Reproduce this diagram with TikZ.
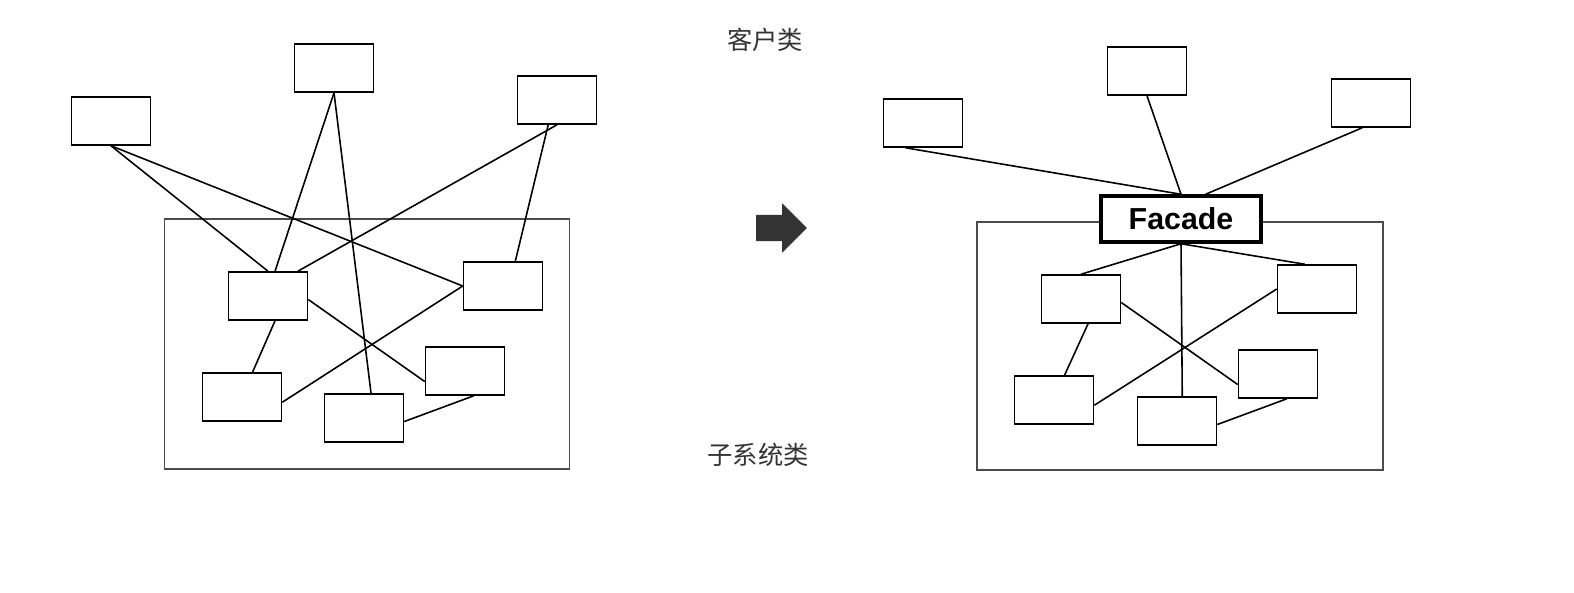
\documentclass[tikz,border=0pt]{standalone}
\usepackage{fontspec}
\setsansfont{Liberation Sans}
\newfontfamily\cjk{Noto Sans CJK SC}
\usetikzlibrary{shapes.arrows, positioning}

\begin{document}
\begin{tikzpicture}[
    x=0.02cm, y=-0.02cm,
    cls/.style={rectangle, draw=black, line width=0.9pt, fill=white, minimum width=1.58cm, minimum height=0.96cm, inner sep=0pt},
    facade/.style={rectangle, draw=black, line width=2pt, fill=white, minimum width=3.2cm, minimum height=0.92cm, font=\sffamily\bfseries\LARGE},
    subsys/.style={rectangle, draw=black!70, line width=0.9pt},
    link/.style={line width=0.9pt},
    label/.style={font=\cjk\Large, text=black!80}
]
\useasboundingbox (0,0) rectangle (1574,592);

% Left: clients talking to subsystem directly
\node[subsys, minimum width=8.1cm, minimum height=5cm] (lsub) at (367,344) {};
\node[cls] (l1) at (111,121) {};
\node[cls] (l2) at (334,68) {};
\node[cls] (l3) at (557,100) {};
\node[cls] (s1) at (268,296) {};
\node[cls] (s2) at (503,286) {};
\node[cls] (s3) at (465,371) {};
\node[cls] (s4) at (242,397) {};
\node[cls] (s5) at (364,418) {};

\draw[link] (l1.south) -- (s1.north);
\draw[link] (l1.south) -- (s2.west);
\draw[link] (l2.south) -- ([xshift=4]s1.north);
\draw[link] (l2.south) -- ([xshift=4]s5.north);
\draw[link] (l3.south) -- ([xshift=17]s1.north);
\draw[link] ([xshift=-5]l3.south) -- ([xshift=7]s2.north);
\draw[link] ([xshift=4]s1.south) -- ([xshift=6]s4.north);
\draw[link] ([yshift=-2]s1.east) -- ([yshift=-6]s3.west);
\draw[link] (s2.west) -- ([yshift=-3]s4.east);
\draw[link] ([xshift=5]s3.south) -- ([yshift=-2]s5.east);

% Middle
\node[single arrow, fill=black!80, draw=black!80, minimum height=1cm, inner sep=0.25cm, single arrow head extend=0.22cm] (go) at (775,228) {};
\node[label] (clients) at (765,40) {客户类};
\node[label] (subsystems) at (758,455) {子系统类};

% Right: clients go through the facade
\node[subsys, minimum width=8.12cm, minimum height=4.96cm] (rsub) at (1180,346) {};
\node[cls] (r1) at (923,123) {};
\node[cls] (r2) at (1147,71) {};
\node[cls] (r3) at (1371,103) {};
\node[facade] (fac) at (1181,219) {Facade};
\node[cls] (t1) at (1081,299) {};
\node[cls] (t2) at (1317,289) {};
\node[cls] (t3) at (1278,374) {};
\node[cls] (t4) at (1054,400) {};
\node[cls] (t5) at (1177,421) {};

\draw[link] ([xshift=-10]r1.south) -- (fac.north);
\draw[link] (r2.south) -- (fac.north);
\draw[link] ([xshift=-5]r3.south) -- ([xshift=14]fac.north);
\draw[link] (fac.south) -- (t1.north);
\draw[link] (fac.south) -- ([xshift=-7]t2.north);
\draw[link] (fac.south) -- ([xshift=3]t5.north);
\draw[link] ([xshift=4]t1.south) -- ([xshift=6]t4.north);
\draw[link] ([yshift=-2]t1.east) -- ([yshift=-6]t3.west);
\draw[link] (t2.west) -- ([yshift=-3]t4.east);
\draw[link] ([xshift=5]t3.south) -- ([yshift=-2]t5.east);

\end{tikzpicture}
\end{document}
